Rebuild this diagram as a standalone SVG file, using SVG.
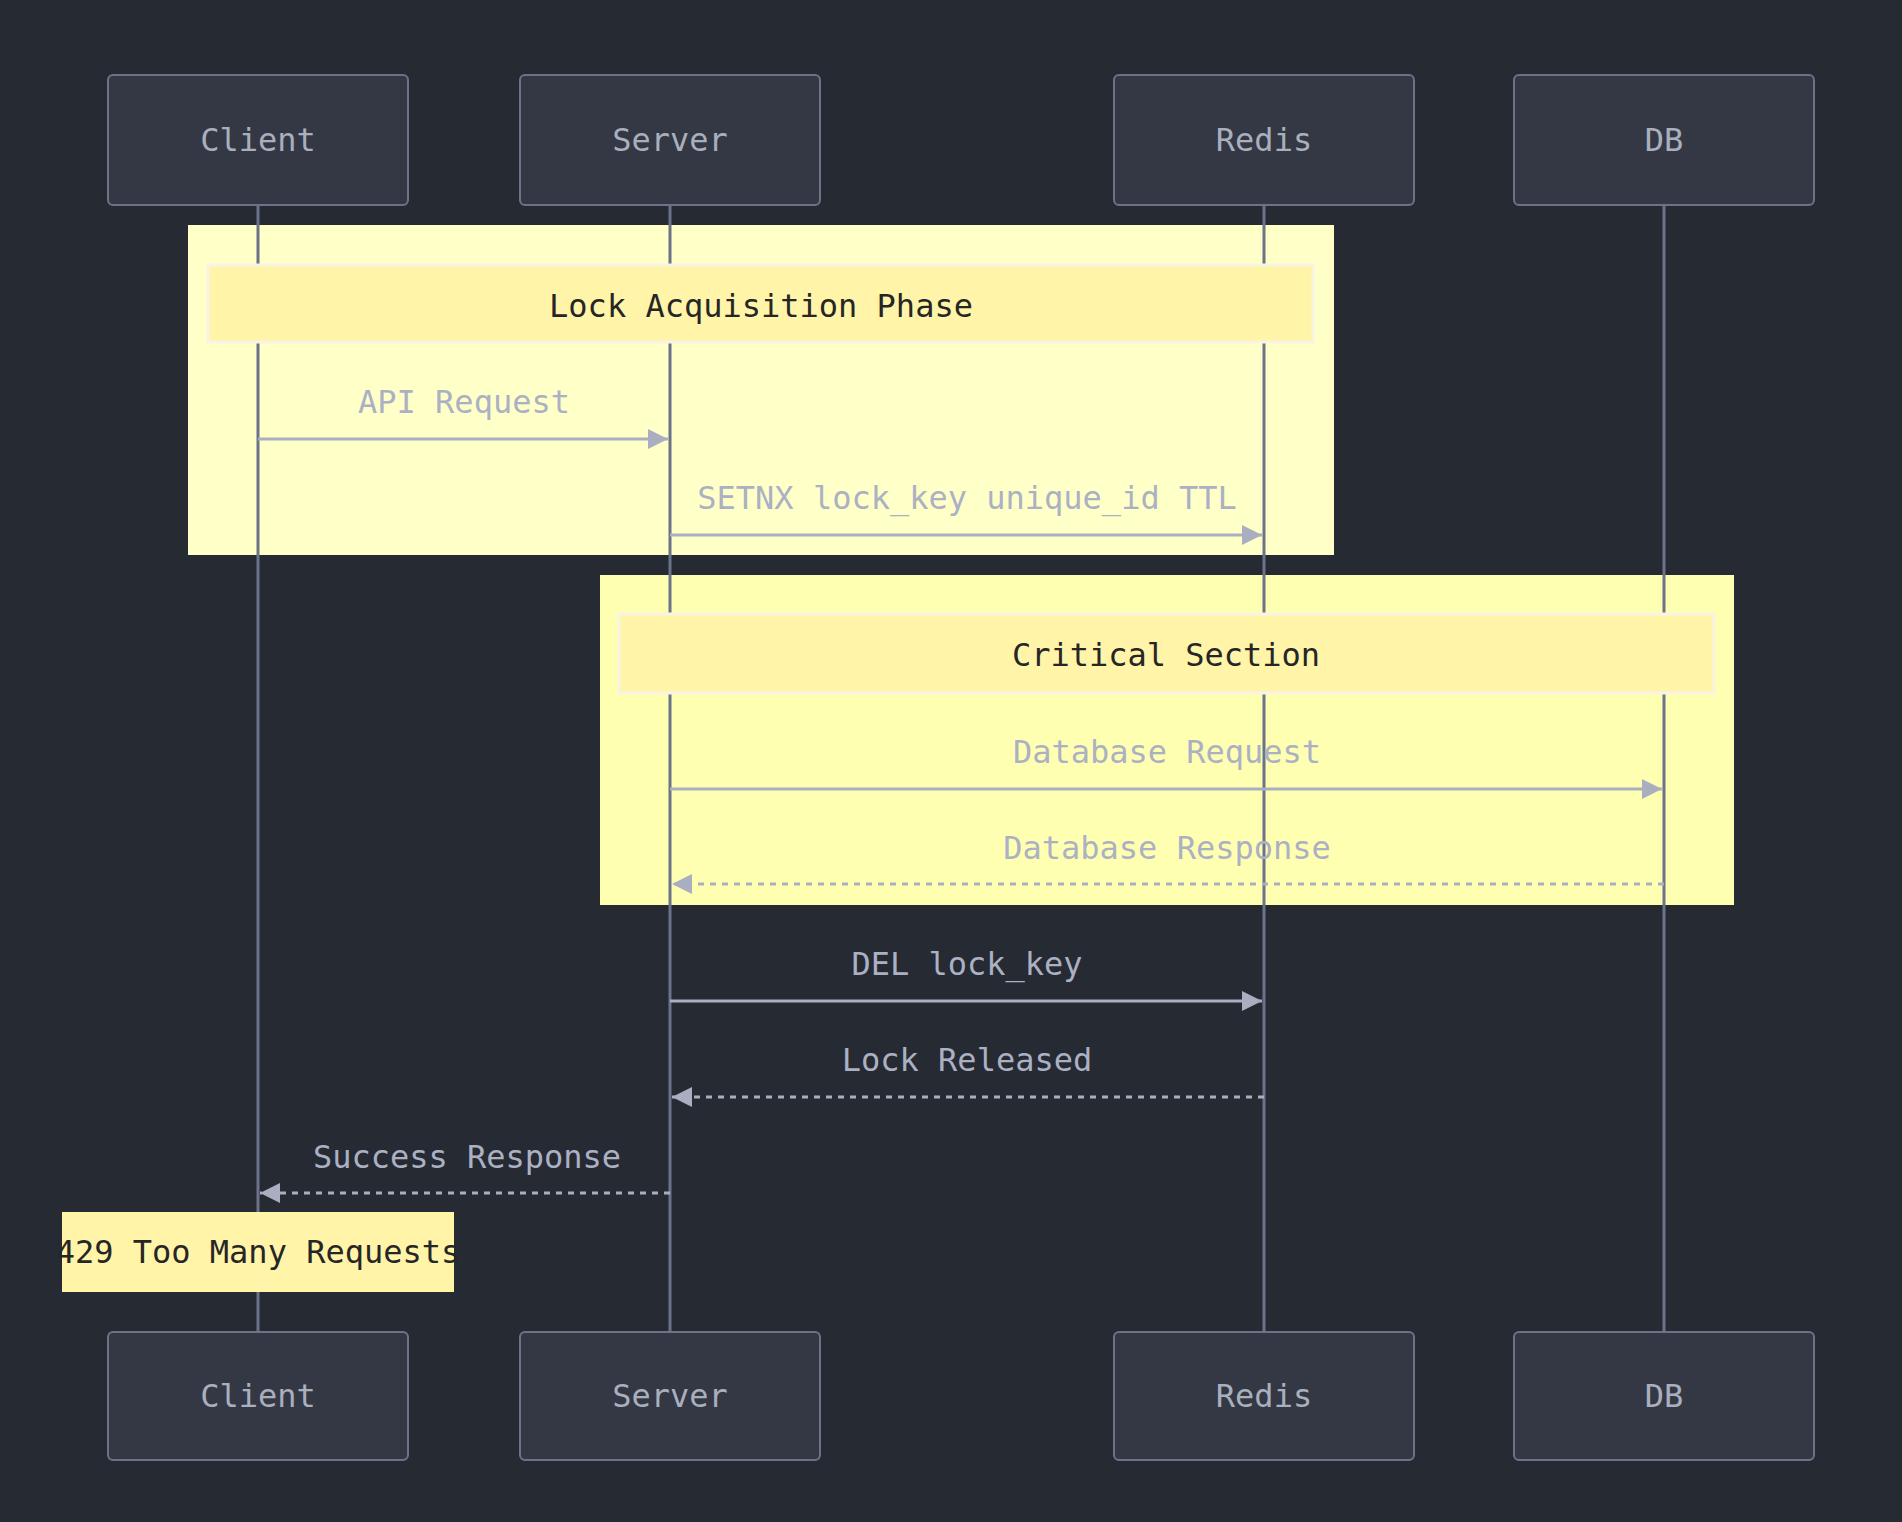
<svg xmlns="http://www.w3.org/2000/svg" width="1902" height="1522" viewBox="0 0 1902 1522">
<defs>
<style>
.bg{fill:#262a33}
.actor rect{fill:#343845;stroke:#6b7389;stroke-width:2}
.actor text{font-family:"DejaVu Sans Mono",monospace;font-size:32px;fill:#a9afbd;text-anchor:middle}
.life{stroke:#6b7389;stroke-width:3}
.rect1{fill:#ffffc8}
.rect2{fill:#ffffb2}
.lbl rect{fill:#fff4a8;stroke:#f8f4e4;stroke-width:3}
.lbl text{font-family:"DejaVu Sans Mono",monospace;font-size:32px;fill:#262626;text-anchor:middle}
.msg line{stroke:#a9afc0;stroke-width:3;fill:none}
.msg line.dash{stroke-dasharray:6,6}
.msg text{font-family:"DejaVu Sans Mono",monospace;font-size:32px;fill:#abb1c3;text-anchor:middle}
.note rect{fill:#fff4a8}
.note text{font-family:"DejaVu Sans Mono",monospace;font-size:32px;fill:#262626;text-anchor:middle}
</style>
<marker id="arr" markerUnits="userSpaceOnUse" markerWidth="20" markerHeight="20" refX="20" refY="10" orient="auto">
<path d="M0,0 L20,10 L0,20 z" fill="#a9afc0"/>
</marker>
</defs>
<rect class="bg" x="0" y="0" width="1902" height="1522"/>

<g id="loop-lock-acquisition">
<rect class="rect1" x="188" y="225" width="1146" height="330"/>
</g>
<g id="loop-critical-section">
<rect class="rect2" x="600" y="575" width="1134" height="330"/>
</g>

<g id="lifelines">
<line class="life" x1="258" y1="205" x2="258" y2="1332"/>
<line class="life" x1="670" y1="205" x2="670" y2="1332"/>
<line class="life" x1="1264" y1="205" x2="1264" y2="1332"/>
<line class="life" x1="1664" y1="205" x2="1664" y2="1332"/>
</g>

<g id="label-lock-acquisition" class="lbl">
<rect x="208" y="265" width="1105" height="77"/>
<text x="761" y="317">Lock Acquisition Phase</text>
</g>
<g id="label-critical-section" class="lbl">
<rect x="619" y="614" width="1095" height="79"/>
<text x="1166" y="666">Critical Section</text>
</g>

<g id="connectors" class="msg">
<text x="464" y="413">API Request</text>
<line x1="258" y1="439" x2="668" y2="439" marker-end="url(#arr)"/>
<text x="967" y="509">SETNX lock_key unique_id TTL</text>
<line x1="670" y1="535" x2="1262" y2="535" marker-end="url(#arr)"/>
<text x="1167" y="763">Database Request</text>
<line x1="670" y1="789" x2="1662" y2="789" marker-end="url(#arr)"/>
<text x="1167" y="859">Database Response</text>
<line class="dash" x1="1664" y1="884" x2="672" y2="884" marker-end="url(#arr)"/>
<text x="967" y="975">DEL lock_key</text>
<line x1="670" y1="1001" x2="1262" y2="1001" marker-end="url(#arr)"/>
<text x="967" y="1071">Lock Released</text>
<line class="dash" x1="1264" y1="1097" x2="672" y2="1097" marker-end="url(#arr)"/>
<text x="467" y="1168">Success Response</text>
<line class="dash" x1="670" y1="1193" x2="260" y2="1193" marker-end="url(#arr)"/>
</g>

<g id="note-429" class="note">
<rect x="62" y="1212" width="392" height="80"/>
<text x="258" y="1263">429 Too Many Requests</text>
</g>

<g id="actor-client-top" class="actor"><rect x="108" y="75" width="300" height="130" rx="5"/><text x="258" y="151">Client</text></g>
<g id="actor-server-top" class="actor"><rect x="520" y="75" width="300" height="130" rx="5"/><text x="670" y="151">Server</text></g>
<g id="actor-redis-top" class="actor"><rect x="1114" y="75" width="300" height="130" rx="5"/><text x="1264" y="151">Redis</text></g>
<g id="actor-db-top" class="actor"><rect x="1514" y="75" width="300" height="130" rx="5"/><text x="1664" y="151">DB</text></g>

<g id="actor-client-bottom" class="actor"><rect x="108" y="1332" width="300" height="128" rx="5"/><text x="258" y="1407">Client</text></g>
<g id="actor-server-bottom" class="actor"><rect x="520" y="1332" width="300" height="128" rx="5"/><text x="670" y="1407">Server</text></g>
<g id="actor-redis-bottom" class="actor"><rect x="1114" y="1332" width="300" height="128" rx="5"/><text x="1264" y="1407">Redis</text></g>
<g id="actor-db-bottom" class="actor"><rect x="1514" y="1332" width="300" height="128" rx="5"/><text x="1664" y="1407">DB</text></g>
</svg>
